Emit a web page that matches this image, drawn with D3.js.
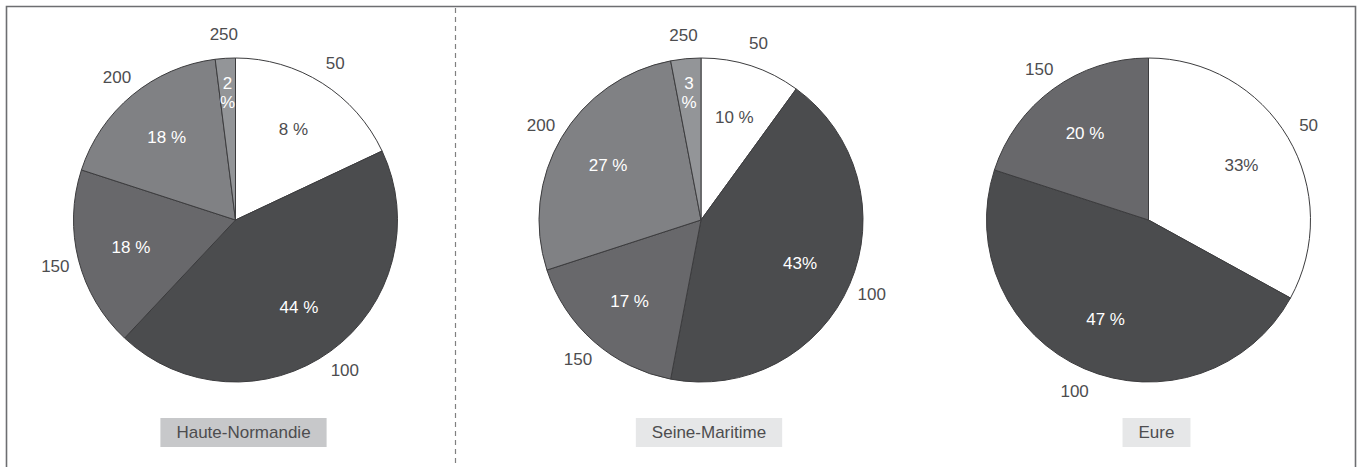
<!DOCTYPE html>
<html>
<head>
<meta charset="utf-8">
<script src="https://cdn.jsdelivr.net/npm/d3@7"></script>
<style>
  html, body { margin: 0; padding: 0; background: #fff; }
  svg { display: block; }
  text { font-family: "Liberation Sans", Arial, sans-serif; }
</style>
</head>
<body>
<svg id="chart" width="1358" height="467"></svg>
<script>
// ---- Data ----
const regions = ["Haute-Normandie", "Seine-Maritime", "Eure"];
const categories = ["50", "100", "150", "200", "250"];
// slice shares (%) as drawn
const hnValues = [18, 44, 18, 18, 2];
const smValues = [10, 43, 17, 27, 3];
const eureValues = [33, 47, 20, 0, 0];
// printed percentage labels
const hnLabels = ["8 %", "44 %", "18 %", "18 %", "2\n%"];
const smLabels = ["10 %", "43%", "17 %", "27 %", "3\n%"];
const eureLabels = ["33%", "47 %", "20 %", "", ""];

// ---- Styles ----
const sliceColors = ["#ffffff", "#4b4c4e", "#68686b", "#808184", "#939598"];
const insideText = ["#4d4d4f", "#ffffff", "#ffffff", "#ffffff", "#ffffff"];
const boxFills = ["#c7c8ca", "#e6e7e8", "#e6e7e8"];

const svg = d3.select("#chart");
const W = 1358, H = 467;

// frame
svg.append("path")
  .attr("d", `M6.5,${H} L6.5,6.5 L1355.5,6.5 L1355.5,${H}`)
  .attr("fill", "none").attr("stroke", "#6d6e71").attr("stroke-width", 1.6);

// dashed separator
svg.append("line")
  .attr("x1", 455.5).attr("x2", 455.5).attr("y1", 8).attr("y2", H)
  .attr("stroke", "#808080").attr("stroke-width", 1.2)
  .attr("stroke-dasharray", "5,4");

const centersX = d3.scalePoint().domain(regions).range([235.5, 1148.5]);
// middle pie sits slightly left of exact midpoint
const cxOverride = {"Seine-Maritime": 701};
const cy = 220;
const R = 162;

const pie = d3.pie().sort(null).value(d => d.v);
const arc = d3.arc().innerRadius(0).outerRadius(R);

const datasets = [
  {values: hnValues, labels: hnLabels},
  {values: smValues, labels: smLabels},
  {values: eureValues, labels: eureLabels}
];

regions.forEach((reg, ri) => {
  const cx = cxOverride[reg] !== undefined ? cxOverride[reg] : centersX(reg);
  const ds = datasets[ri];
  const rows = categories.map((c, i) => ({cat: c, v: ds.values[i], lab: ds.labels[i], i}))
    .filter(d => d.v > 0);
  const arcs = pie(rows);
  const g = svg.append("g").attr("transform", `translate(${cx},${cy})`);

  g.selectAll("path.slice").data(arcs).enter().append("path")
    .attr("class", "slice")
    .attr("d", arc)
    .attr("fill", d => sliceColors[d.data.i])
    .attr("stroke", "#3c3c3e")
    .attr("stroke-width", 1);

  // inside percentage labels
  arcs.forEach(d => {
    const mid = (d.startAngle + d.endAngle) / 2;
    const small = (d.endAngle - d.startAngle) < 0.3;
    const rr = small ? 128 : 108;
    const x = Math.sin(mid) * rr, y = -Math.cos(mid) * rr;
    const lines = d.data.lab.split("\n");
    const t = g.append("text")
      .attr("x", x).attr("y", y)
      .attr("text-anchor", "middle")
      .attr("font-size", 17)
      .attr("fill", insideText[d.data.i]);
    lines.forEach((ln, k) => {
      t.append("tspan")
        .attr("x", x)
        .attr("dy", k === 0 ? (0.35 - (lines.length - 1) * 0.55) + "em" : "1.1em")
        .text(ln);
    });
  });

  // outer category labels
  arcs.forEach(d => {
    const mid = (d.startAngle + d.endAngle) / 2;
    const rr = 186;
    const x = Math.sin(mid) * rr, y = -Math.cos(mid) * rr;
    g.append("text")
      .attr("x", x).attr("y", y).attr("dy", "0.35em")
      .attr("text-anchor", "middle")
      .attr("font-size", 17)
      .attr("fill", "#4d4d4f")
      .text(d.data.cat);
  });

  // region label box
  const lg = svg.append("g");
  const txt = lg.append("text")
    .attr("x", cx + 8).attr("y", 432.5).attr("dy", "0.35em")
    .attr("text-anchor", "middle")
    .attr("font-size", 17)
    .attr("fill", "#4d4d4f")
    .text(reg);
  const bb = txt.node().getBBox();
  lg.insert("rect", "text")
    .attr("x", bb.x - 16).attr("y", 418)
    .attr("width", bb.width + 32).attr("height", 29)
    .attr("fill", boxFills[ri]);
});
</script>
</body>
</html>
